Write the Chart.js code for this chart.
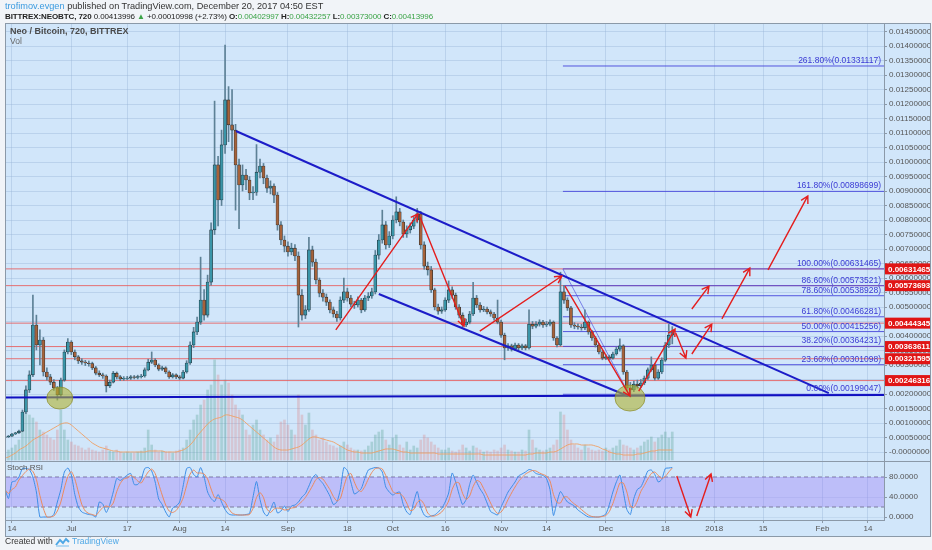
<!DOCTYPE html>
<html>
<head>
<meta charset="utf-8">
<title>NEOBTC 720 - BITTREX</title>
<script src="https://cdn.jsdelivr.net/npm/chart.js@4.4.1/dist/chart.umd.min.js"></script>
<style>
  html, body { margin: 0; padding: 0; background: #f1f4f8; }
  body { width: 932px; height: 550px; position: relative; overflow: hidden;
         font-family: "Liberation Sans", Arial, sans-serif; }
  #chart { position: absolute; left: 0; top: 0; }
  .txt { position: absolute; white-space: nowrap; }
  .head1 { left: 5px; top: 1px; font-size: 9.2px; color: #333; }
  .head2 { left: 5px; top: 11.5px; font-size: 8px; color: #222; letter-spacing: -0.1px; }
  .head2 b { font-weight: bold; }
  .up { color: #3aa346; }
  .title { left: 10px; top: 26px; font-size: 9px; color: #4a4a4a; font-weight: bold; }
  .vol { left: 10px; top: 36px; font-size: 8.5px; color: #666; }
  .stoch { left: 7px; top: 463px; font-size: 8px; color: #555; }
  .foot { left: 5px; top: 536px; font-size: 8.5px; color: #333; }
  .tv { left: 72px; top: 536px; font-size: 8.5px; color: #4fa8e6; }
  .logo { position: absolute; left: 55px; top: 537px; }
</style>
</head>
<body>
<canvas id="chart" width="932" height="550"></canvas>

<div class="txt head1"><span style="color:#3b9be0">trofimov.evgen</span> published on TradingView.com, December 20, 2017 04:50 EST</div>
<div class="txt head2"><b>BITTREX:NEOBTC, 720</b> 0.00413996 <span class="up">&#9650;</span> +0.00010998 (+2.73%) <b>O:</b><span class="up">0.00402997</span> <b>H:</b><span class="up">0.00432257</span> <b>L:</b><span class="up">0.00373000</span> <b>C:</b><span class="up">0.00413996</span></div>
<div class="txt title">Neo / Bitcoin, 720, BITTREX</div>
<div class="txt vol">Vol</div>
<div class="txt stoch">Stoch RSI</div>
<div class="txt foot">Created with</div>
<svg class="logo" width="15" height="10" viewBox="0 0 15 10">
  <path d="M1 8 L5 3 L8 6 L11 2 L14 5" fill="none" stroke="#4fa8e6" stroke-width="2"/>
  <path d="M1 9 L14 9" stroke="#9fd0f2" stroke-width="1.5"/>
</svg>
<div class="txt tv">TradingView</div>

<script>
// x axis: days counted from 14 Jun 2017; one candle per day, first one on 12 Jun
const firstDay = -2;
const xMin = -1.7;
const xMax = 249.6;

const tickDays = [0, 17, 33, 48, 61, 79, 96, 109, 124, 140, 153, 170, 187, 201, 215, 232, 245];
const tickLabels = ['14', 'Jul', '17', 'Aug', '14', 'Sep', '18', 'Oct', '16', 'Nov', '14', 'Dec', '18', '2018', '15', 'Feb', '14'];

const priceTicks = [0, 0.0005, 0.0010, 0.0015, 0.0020, 0.0025, 0.0030, 0.0035, 0.0040, 0.0045,
  0.0050, 0.0055, 0.0060, 0.0065, 0.0070, 0.0075, 0.0080, 0.0085, 0.0090, 0.0095,
  0.0100, 0.0105, 0.0110, 0.0115, 0.0120, 0.0125, 0.0130, 0.0135, 0.0140, 0.0145];
const stochTicks = [0, 40, 80];

// OHLC, NEO/BTC (rows of ten days, from 12 Jun)
const opens = [
  0.00050, 0.00052, 0.00055, 0.00062, 0.00066, 0.00072, 0.00138, 0.00214, 0.00266, 0.00438,
  0.00369, 0.00386, 0.00276, 0.00259, 0.00241, 0.00221, 0.00197, 0.00248, 0.00345, 0.00379,
  0.00345, 0.00328, 0.00314, 0.00310, 0.00307, 0.00305, 0.00290, 0.00272, 0.00266, 0.00262,
  0.00228, 0.00241, 0.00272, 0.00259, 0.00252, 0.00254, 0.00255, 0.00259, 0.00257, 0.00260,
  0.00262, 0.00283, 0.00310, 0.00317, 0.00300, 0.00286, 0.00290, 0.00276, 0.00259, 0.00266,
  0.00259, 0.00255, 0.00276, 0.00307, 0.00369, 0.00414, 0.00448, 0.00524, 0.00472, 0.00586,
  0.00766, 0.00990, 0.00869, 0.01059, 0.01214, 0.01128, 0.01110, 0.00990, 0.00921, 0.00955,
  0.00938, 0.00893, 0.00896, 0.00965, 0.00986, 0.00945, 0.00910, 0.00917, 0.00886, 0.00783,
  0.00731, 0.00710, 0.00690, 0.00703, 0.00676, 0.00541, 0.00472, 0.00490, 0.00697, 0.00655,
  0.00593, 0.00548, 0.00534, 0.00517, 0.00490, 0.00476, 0.00462, 0.00524, 0.00552, 0.00531,
  0.00510, 0.00507, 0.00524, 0.00490, 0.00531, 0.00538, 0.00552, 0.00679, 0.00731, 0.00783,
  0.00714, 0.00745, 0.00800, 0.00828, 0.00793, 0.00752, 0.00766, 0.00779, 0.00800, 0.00821,
  0.00714, 0.00641, 0.00628, 0.00559, 0.00500, 0.00486, 0.00490, 0.00524, 0.00559, 0.00541,
  0.00500, 0.00472, 0.00438, 0.00448, 0.00476, 0.00531, 0.00507, 0.00490, 0.00493, 0.00483,
  0.00476, 0.00462, 0.00448, 0.00403, 0.00359, 0.00366, 0.00355, 0.00369, 0.00359, 0.00366,
  0.00359, 0.00441, 0.00434, 0.00441, 0.00448, 0.00438, 0.00441, 0.00448, 0.00393, 0.00369,
  0.00552, 0.00524, 0.00497, 0.00438, 0.00434, 0.00431, 0.00428, 0.00448, 0.00414, 0.00393,
  0.00369, 0.00345, 0.00324, 0.00328, 0.00324, 0.00338, 0.00355, 0.00366, 0.00276, 0.00221,
  0.00214, 0.00234, 0.00228, 0.00238, 0.00255, 0.00283, 0.00300, 0.00255, 0.00276, 0.00317,
  0.00369, 0.00402997
];
const highs = [
  0.00054, 0.00057, 0.00064, 0.00068, 0.00076, 0.00145, 0.00228, 0.00280, 0.00541, 0.00472,
  0.00421, 0.00395, 0.00290, 0.00268, 0.00250, 0.00226, 0.00255, 0.00352, 0.00391, 0.00384,
  0.00352, 0.00333, 0.00322, 0.00316, 0.00314, 0.00310, 0.00295, 0.00280, 0.00272, 0.00266,
  0.00248, 0.00278, 0.00276, 0.00264, 0.00260, 0.00261, 0.00264, 0.00264, 0.00265, 0.00268,
  0.00290, 0.00320, 0.00345, 0.00322, 0.00304, 0.00296, 0.00294, 0.00280, 0.00271, 0.00270,
  0.00264, 0.00282, 0.00315, 0.00380, 0.00430, 0.00465, 0.00672, 0.00560, 0.00610, 0.00790,
  0.01210, 0.01020, 0.01110, 0.01403, 0.01260, 0.01250, 0.01130, 0.01010, 0.00990, 0.00975,
  0.00950, 0.00915, 0.01060, 0.01010, 0.00995, 0.00955, 0.00935, 0.00925, 0.00895, 0.00795,
  0.00745, 0.00725, 0.00720, 0.00715, 0.00690, 0.00560, 0.00505, 0.00740, 0.00710, 0.00665,
  0.00600, 0.00560, 0.00545, 0.00525, 0.00500, 0.00485, 0.00535, 0.00600, 0.00565, 0.00540,
  0.00520, 0.00535, 0.00530, 0.00540, 0.00550, 0.00565, 0.00695, 0.00750, 0.00834, 0.00795,
  0.00760, 0.00815, 0.00880, 0.00840, 0.00800, 0.00780, 0.00790, 0.00812, 0.00840, 0.00830,
  0.00725, 0.00655, 0.00640, 0.00565, 0.00510, 0.00500, 0.00532, 0.00590, 0.00570, 0.00548,
  0.00508, 0.00480, 0.00458, 0.00485, 0.00585, 0.00540, 0.00515, 0.00502, 0.00500, 0.00490,
  0.00482, 0.00524, 0.00455, 0.00410, 0.00374, 0.00372, 0.00376, 0.00374, 0.00372, 0.00371,
  0.00490, 0.00450, 0.00450, 0.00456, 0.00454, 0.00450, 0.00456, 0.00452, 0.00398, 0.00620,
  0.00575, 0.00532, 0.00502, 0.00446, 0.00442, 0.00440, 0.00490, 0.00452, 0.00420, 0.00398,
  0.00375, 0.00350, 0.00335, 0.00334, 0.00345, 0.00362, 0.00390, 0.00370, 0.00282, 0.00240,
  0.00245, 0.00248, 0.00250, 0.00262, 0.00290, 0.00328, 0.00305, 0.00284, 0.00325, 0.00378,
  0.00440, 0.00432257
];
const lows = [
  0.00048, 0.00050, 0.00054, 0.00060, 0.00064, 0.00070, 0.00132, 0.00205, 0.00260, 0.00352,
  0.00300, 0.00262, 0.00248, 0.00232, 0.00212, 0.00179, 0.00192, 0.00244, 0.00338, 0.00336,
  0.00318, 0.00305, 0.00302, 0.00298, 0.00296, 0.00284, 0.00266, 0.00260, 0.00254, 0.00207,
  0.00222, 0.00238, 0.00252, 0.00246, 0.00247, 0.00249, 0.00250, 0.00252, 0.00252, 0.00255,
  0.00258, 0.00280, 0.00305, 0.00294, 0.00280, 0.00281, 0.00270, 0.00254, 0.00255, 0.00253,
  0.00250, 0.00252, 0.00272, 0.00302, 0.00360, 0.00405, 0.00440, 0.00455, 0.00465, 0.00575,
  0.00750, 0.00780, 0.00850, 0.01030, 0.01070, 0.01040, 0.00834, 0.00770, 0.00900, 0.00905,
  0.00870, 0.00870, 0.00885, 0.00945, 0.00925, 0.00895, 0.00890, 0.00860, 0.00765, 0.00715,
  0.00690, 0.00675, 0.00680, 0.00660, 0.00431, 0.00455, 0.00460, 0.00485, 0.00640, 0.00580,
  0.00535, 0.00520, 0.00505, 0.00480, 0.00465, 0.00450, 0.00455, 0.00515, 0.00520, 0.00500,
  0.00495, 0.00500, 0.00480, 0.00485, 0.00522, 0.00530, 0.00545, 0.00665, 0.00720, 0.00700,
  0.00705, 0.00735, 0.00790, 0.00780, 0.00740, 0.00740, 0.00755, 0.00770, 0.00790, 0.00700,
  0.00630, 0.00610, 0.00550, 0.00490, 0.00475, 0.00478, 0.00485, 0.00515, 0.00530, 0.00492,
  0.00462, 0.00430, 0.00432, 0.00442, 0.00470, 0.00498, 0.00482, 0.00484, 0.00476, 0.00468,
  0.00455, 0.00442, 0.00395, 0.00318, 0.00350, 0.00348, 0.00350, 0.00352, 0.00353, 0.00352,
  0.00355, 0.00425, 0.00428, 0.00434, 0.00430, 0.00432, 0.00435, 0.00385, 0.00362, 0.00365,
  0.00512, 0.00488, 0.00430, 0.00425, 0.00424, 0.00420, 0.00422, 0.00406, 0.00385, 0.00362,
  0.00338, 0.00318, 0.00318, 0.00318, 0.00320, 0.00334, 0.00348, 0.00268, 0.00212, 0.00190,
  0.00208, 0.00220, 0.00222, 0.00232, 0.00250, 0.00278, 0.00248, 0.00250, 0.00270, 0.00312,
  0.00360, 0.00373
];
const closes = [
  0.00052, 0.00055, 0.00062, 0.00066, 0.00072, 0.00138, 0.00214, 0.00266, 0.00438, 0.00369,
  0.00386, 0.00276, 0.00259, 0.00241, 0.00221, 0.00197, 0.00248, 0.00345, 0.00379, 0.00345,
  0.00328, 0.00314, 0.00310, 0.00307, 0.00305, 0.00290, 0.00272, 0.00266, 0.00262, 0.00228,
  0.00241, 0.00272, 0.00259, 0.00252, 0.00254, 0.00255, 0.00259, 0.00257, 0.00260, 0.00262,
  0.00283, 0.00310, 0.00317, 0.00300, 0.00286, 0.00290, 0.00276, 0.00259, 0.00266, 0.00259,
  0.00255, 0.00276, 0.00307, 0.00369, 0.00414, 0.00448, 0.00524, 0.00472, 0.00586, 0.00766,
  0.00990, 0.00869, 0.01059, 0.01214, 0.01128, 0.01110, 0.00990, 0.00921, 0.00955, 0.00938,
  0.00893, 0.00896, 0.00965, 0.00986, 0.00945, 0.00910, 0.00917, 0.00886, 0.00783, 0.00731,
  0.00710, 0.00690, 0.00703, 0.00676, 0.00541, 0.00472, 0.00490, 0.00697, 0.00655, 0.00593,
  0.00548, 0.00534, 0.00517, 0.00490, 0.00476, 0.00462, 0.00524, 0.00552, 0.00531, 0.00510,
  0.00507, 0.00524, 0.00490, 0.00531, 0.00538, 0.00552, 0.00679, 0.00731, 0.00783, 0.00714,
  0.00745, 0.00800, 0.00828, 0.00793, 0.00752, 0.00766, 0.00779, 0.00800, 0.00821, 0.00714,
  0.00641, 0.00628, 0.00559, 0.00500, 0.00486, 0.00490, 0.00524, 0.00559, 0.00541, 0.00500,
  0.00472, 0.00438, 0.00448, 0.00476, 0.00531, 0.00507, 0.00490, 0.00493, 0.00483, 0.00476,
  0.00462, 0.00448, 0.00403, 0.00359, 0.00366, 0.00355, 0.00369, 0.00359, 0.00366, 0.00359,
  0.00441, 0.00434, 0.00441, 0.00448, 0.00438, 0.00441, 0.00448, 0.00393, 0.00369, 0.00552,
  0.00524, 0.00497, 0.00438, 0.00434, 0.00431, 0.00428, 0.00448, 0.00414, 0.00393, 0.00369,
  0.00345, 0.00324, 0.00328, 0.00324, 0.00338, 0.00355, 0.00366, 0.00276, 0.00221, 0.00214,
  0.00234, 0.00228, 0.00238, 0.00255, 0.00283, 0.00300, 0.00255, 0.00276, 0.00317, 0.00369,
  0.00403, 0.00413996
];

// volume (relative units) and its moving average
const volumes = [
  8, 10, 12, 15, 20, 40, 48, 45, 42, 38,
  30, 28, 25, 22, 20, 30, 50, 30, 20, 18,
  15, 14, 12, 10, 12, 10, 9, 8, 10, 14,
  9, 8, 10, 8, 7, 8, 7, 7, 8, 9,
  12, 30, 15, 10, 8, 9, 8, 8, 7, 9,
  10, 12, 20, 30, 40, 45, 55, 60, 70, 75,
  100, 85, 75, 80, 77, 65, 55, 50, 45, 30,
  25, 35, 40, 30, 25, 20, 22, 18, 25, 38,
  40, 35, 30, 25, 65, 45, 35, 47, 30, 25,
  20, 22, 18, 15, 14, 12, 14, 18, 15, 12,
  10, 10, 9, 10, 14, 18, 25, 28, 30, 20,
  15, 22, 25, 15, 12, 18, 10, 14, 12, 20,
  25, 22, 18, 15, 12, 10, 10, 12, 9, 8,
  10, 15, 12, 9, 14, 12, 10, 8, 9, 8,
  10, 9, 12, 15, 10, 9, 8, 8, 10, 9,
  30, 20, 12, 10, 9, 10, 12, 15, 20, 48,
  45, 30, 20, 15, 12, 10, 15, 12, 10, 9,
  10, 9, 12, 10, 12, 14, 20, 15, 14, 12,
  10, 12, 14, 18, 20, 23, 18, 22, 25, 28,
  22, 28
];
const volumeMA = [
  2, 3, 5, 7, 10, 12, 14, 17, 20, 22,
  24, 26, 28, 30, 32, 34, 36, 37, 37, 35,
  32, 29, 26, 23, 20, 17, 15, 13, 12, 11,
  10, 9, 9, 8, 8, 8, 8, 8, 8, 8,
  8, 9, 9, 9, 9, 9, 8, 8, 8, 8,
  9, 10, 12, 15, 19, 24, 28, 32, 36, 39,
  41, 42, 43, 45, 45, 44, 43, 42, 40, 37,
  34, 31, 28, 25, 22, 19, 16, 13, 11, 10,
  10, 10, 11, 12, 13, 15, 18, 21, 23, 23,
  22, 21, 20, 19, 18, 16, 14, 12, 10, 9,
  8, 8, 7, 7, 7, 7, 8, 9, 10, 11,
  11, 11, 10, 9, 8, 8, 7, 7, 7, 7,
  7, 7, 7, 7, 6, 6, 6, 6, 6, 6,
  6, 6, 6, 6, 6, 6, 6, 5, 5, 5,
  5, 5, 5, 5, 5, 5, 5, 5, 5, 5,
  6, 6, 7, 7, 7, 7, 8, 8, 9, 11,
  13, 15, 16, 16, 16, 15, 15, 15, 15, 14,
  13, 11, 10, 8, 7, 6, 6, 5, 5, 5,
  5, 6, 6, 7, 8, 9, 9, 10, 10, 10,
  10, 10
];

// Stoch RSI %K and %D
const stochK = [
  57, 37, 70, 72, 80, 97, 97, 95, 80, 50,
  0, 0, 0, 0, 5, 30, 55, 90, 98, 84,
  45, 20, 10, 7, 5, 4, 0, 30, 26, 9,
  25, 50, 77, 73, 78, 84, 87, 65, 65, 75,
  97, 99, 92, 70, 36, 25, 10, 0, 18, 22,
  30, 62, 97, 99, 85, 80, 99, 80, 50, 37,
  31, 45, 30, 15, 6, 4, 4, 4, 4, 5,
  7, 40, 71, 35, 10, 2, 15, 30, 8, 12,
  22, 11, 22, 24, 30, 40, 47, 62, 78, 85,
  75, 67, 55, 42, 25, 30, 55, 99, 93, 70,
  46, 50, 57, 77, 94, 97, 99, 98, 90, 60,
  50, 44, 48, 50, 25, 10, 5, 30, 51, 20,
  4, 0, 2, 4, 10, 17, 30, 48, 88, 70,
  45, 25, 35, 65, 84, 70, 56, 45, 28, 11,
  7, 4, 20, 35, 50, 60, 70, 82, 86, 90,
  95, 93, 87, 85, 83, 77, 55, 3, 30, 51,
  40, 30, 26, 22, 14, 9, 4, 0, 0, 0,
  0, 2, 6, 25, 50, 70, 84, 50, 15, 5,
  37, 55, 60, 75, 92, 94, 85, 70, 75, 97,
  98, 99
];
const stochD = [
  55, 47, 55, 60, 74, 83, 91, 96, 91, 75,
  43, 17, 0, 0, 2, 12, 30, 58, 81, 91,
  76, 50, 25, 12, 7, 5, 3, 11, 19, 22,
  20, 28, 51, 67, 76, 78, 83, 79, 72, 68,
  79, 90, 96, 87, 66, 44, 24, 12, 9, 13,
  23, 38, 63, 86, 94, 88, 88, 86, 76, 56,
  39, 38, 35, 30, 17, 8, 5, 4, 4, 4,
  5, 17, 39, 49, 39, 16, 9, 16, 18, 17,
  14, 15, 18, 19, 25, 31, 39, 50, 62, 75,
  79, 76, 66, 55, 41, 32, 37, 61, 82, 87,
  70, 55, 51, 61, 76, 89, 97, 98, 96, 83,
  67, 51, 47, 47, 41, 28, 13, 15, 29, 34,
  25, 8, 2, 2, 5, 10, 19, 32, 55, 69,
  68, 47, 35, 42, 61, 73, 70, 57, 43, 28,
  15, 7, 10, 20, 35, 48, 60, 71, 79, 86,
  90, 93, 92, 88, 85, 82, 72, 45, 29, 28,
  40, 40, 32, 26, 21, 15, 9, 4, 1, 0,
  0, 1, 3, 11, 27, 48, 68, 68, 50, 23,
  19, 32, 51, 63, 76, 87, 90, 83, 77, 81,
  90, 98
];

// drawings on the chart
const redLevels = [0.00631465, 0.00573693, 0.00444345, 0.00363611, 0.00321595, 0.00246316];
const fibStartDay = 157.7;
const fibNames = ['0.00%', '23.60%', '38.20%', '50.00%', '61.80%', '78.60%', '86.60%', '100.00%', '161.80%', '261.80%'];
const fibPrices = [0.00199047, 0.00301098, 0.00364231, 0.00415256, 0.00466281, 0.00538928, 0.00573521, 0.00631465, 0.00898699, 0.01331117];
const trendUpper = [[64.1, 0.01107], [233.8, 0.00203]];
const trendLower = [[105.0, 0.00545], [176.3, 0.00193]];
const supportLine = [[xMin, 0.00188], [xMax, 0.00197]];
const fibTrend = [[157.7, 0.00631], [176.9, 0.00193]];
const redArrows = [
  [92.7, 0.00421, 116.2, 0.00821],
  [116.8, 0.00810, 129.4, 0.00434],
  [133.9, 0.00417, 157.4, 0.00607],
  [158.3, 0.00572, 176.9, 0.00193],
  [179.4, 0.00210, 189.8, 0.00424],
  [190.0, 0.00410, 192.9, 0.00324],
  [194.6, 0.00338, 200.3, 0.00441],
  [194.6, 0.00493, 199.5, 0.00572],
  [203.2, 0.00459, 211.2, 0.00634],
  [216.4, 0.00628, 227.8, 0.00883]
];
const stochArrows = [[190.3, 82, 194.3, 0], [196.0, 2, 200.1, 86]];
const highlightSpots = [[13.7, 0.00186], [176.9, 0.00186]];

const dayOf = i => firstDay + i;
const isUp = closes.map((c, i) => c >= opens[i]);

function fmtPrice(v) {
    // TradingView prints the zero line as "-0.00000000"
    return Math.abs(v) < 1e-12 ? '-0.00000000' : v.toFixed(8);
}

function segment(points, color, width, order, axis, dash) {
    return {
        type: 'line',
        data: points.map(p => ({ x: p[0], y: p[1] })),
        yAxisID: axis || 'y',
        borderColor: color,
        borderWidth: width,
        borderDash: dash || [],
        pointRadius: 0,
        fill: false,
        tension: 0,
        order: order
    };
}

const datasets = [];

// volume
datasets.push({
    type: 'bar',
    data: volumes.map((v, i) => ({ x: dayOf(i), y: v })),
    yAxisID: 'yv',
    backgroundColor: isUp.map(u => u ? 'rgba(90,165,150,0.34)' : 'rgba(220,125,125,0.30)'),
    barThickness: 2,
    grouped: false,
    order: 30
});
datasets.push({
    type: 'line',
    data: volumeMA.map((v, i) => ({ x: dayOf(i), y: v })),
    yAxisID: 'yv',
    borderColor: 'rgba(240,160,100,0.9)',
    borderWidth: 1,
    pointRadius: 0,
    tension: 0.3,
    order: 29
});

// Stoch RSI band 80 / 20
datasets.push(segment([[xMin, 80], [xMax, 80]], '#7b7d9c', 1, 26, 'ys', [4, 3]));
datasets.push(Object.assign(segment([[xMin, 20], [xMax, 20]], '#7b7d9c', 1, 25, 'ys', [4, 3]), {
    fill: '-1',
    backgroundColor: 'rgba(150,110,250,0.33)'
}));

// red horizontal levels and the fibonacci levels
redLevels.forEach(v => datasets.push(segment([[xMin, v], [xMax, v]], 'rgba(232,90,90,0.85)', 1, 20)));
fibPrices.forEach(v => datasets.push(segment([[fibStartDay, v], [xMax, v]], 'rgba(70,70,220,0.9)', 1, 19)));
datasets.push(segment(fibTrend, 'rgba(70,70,220,0.8)', 0.8, 18));

// candles
datasets.push({
    type: 'bar',
    data: highs.map((h, i) => ({ x: dayOf(i), y: [lows[i], h] })),
    backgroundColor: '#5d8196',
    barThickness: 1,
    grouped: false,
    order: 12
});
datasets.push({
    type: 'bar',
    data: opens.map((o, i) => ({ x: dayOf(i), y: [o, closes[i]] })),
    backgroundColor: isUp.map(u => u ? '#3a95a8' : '#a6623a'),
    borderColor: '#1f2d33',
    borderWidth: 0.6,
    borderSkipped: false,
    barThickness: 3,
    grouped: false,
    order: 11
});

// blue trend lines
datasets.push(segment(trendUpper, '#1c1cc8', 2, 6));
datasets.push(segment(trendLower, '#1c1cc8', 2, 6));
datasets.push(segment(supportLine, '#1010c0', 2, 6));

// stoch lines
datasets.push({
    type: 'line',
    data: stochD.map((v, i) => ({ x: dayOf(i), y: v })),
    yAxisID: 'ys',
    borderColor: '#ec8a5e',
    borderWidth: 1,
    pointRadius: 0,
    tension: 0.2,
    order: 4
});
datasets.push({
    type: 'line',
    data: stochK.map((v, i) => ({ x: dayOf(i), y: v })),
    yAxisID: 'ys',
    borderColor: '#3d8fe8',
    borderWidth: 1,
    pointRadius: 0,
    tension: 0.2,
    order: 5
});

function arrow(ctx, x0, y0, x1, y1) {
    const a = Math.atan2(y1 - y0, x1 - x0);
    const len = 8;
    ctx.beginPath();
    ctx.moveTo(x0, y0);
    ctx.lineTo(x1, y1);
    ctx.moveTo(x1 - len * Math.cos(a - 0.5), y1 - len * Math.sin(a - 0.5));
    ctx.lineTo(x1, y1);
    ctx.lineTo(x1 - len * Math.cos(a + 0.5), y1 - len * Math.sin(a + 0.5));
    ctx.stroke();
}

const decorations = {
    id: 'decorations',
    beforeDraw(chart) {
        const ctx = chart.ctx;
        ctx.save();
        ctx.fillStyle = '#f1f4f8';
        ctx.fillRect(0, 0, chart.width, chart.height);
        ctx.fillStyle = '#d1e6fa';
        ctx.fillRect(5, 23, 926, 514);
        ctx.restore();
    },
    afterDatasetsDraw(chart) {
        const { ctx, chartArea } = chart;
        const sx = chart.scales.x, sy = chart.scales.y, ss = chart.scales.ys;
        ctx.save();

        // highlighted lows
        const radii = [[13, 11], [15, 13]];
        highlightSpots.forEach((p, i) => {
            ctx.beginPath();
            ctx.ellipse(sx.getPixelForValue(p[0]), sy.getPixelForValue(p[1]), radii[i][0], radii[i][1], 0, 0, Math.PI * 2);
            ctx.fillStyle = 'rgba(175,178,50,0.6)';
            ctx.fill();
            ctx.strokeStyle = 'rgba(140,140,40,0.7)';
            ctx.lineWidth = 1;
            ctx.stroke();
        });

        // red arrows
        ctx.strokeStyle = '#e41e1e';
        ctx.lineWidth = 1.4;
        redArrows.forEach(a => arrow(ctx, sx.getPixelForValue(a[0]), sy.getPixelForValue(a[1]),
            sx.getPixelForValue(a[2]), sy.getPixelForValue(a[3])));
        stochArrows.forEach(a => arrow(ctx, sx.getPixelForValue(a[0]), ss.getPixelForValue(a[1]),
            sx.getPixelForValue(a[2]), ss.getPixelForValue(a[3])));

        // fibonacci labels
        ctx.font = '8.5px "Liberation Sans", Arial, sans-serif';
        ctx.fillStyle = '#3a3ad4';
        ctx.textAlign = 'right';
        ctx.textBaseline = 'bottom';
        fibNames.forEach((n, i) => {
            ctx.fillText(n + '(' + fibPrices[i].toFixed(8) + ')', chartArea.right - 3, sy.getPixelForValue(fibPrices[i]) - 1);
        });

        // red price labels on the axis
        ctx.font = 'bold 8px "Liberation Sans", Arial, sans-serif';
        ctx.textAlign = 'left';
        ctx.textBaseline = 'middle';
        redLevels.forEach(v => {
            const y = sy.getPixelForValue(v);
            ctx.fillStyle = '#e01515';
            ctx.fillRect(chartArea.right + 1, y - 5.5, 46, 11);
            ctx.fillStyle = '#ffffff';
            ctx.fillText(v.toFixed(8), chartArea.right + 4, y + 0.5);
        });
        ctx.restore();
    },
    afterDraw(chart) {
        const ctx = chart.ctx;
        const ss = chart.scales.ys;
        ctx.save();
        ctx.strokeStyle = '#8b99a8';
        ctx.lineWidth = 1;
        ctx.beginPath();
        ctx.moveTo(5, Math.round(ss.top) + 0.5);
        ctx.lineTo(931, Math.round(ss.top) + 0.5);
        ctx.stroke();
        ctx.strokeRect(5.5, 23.5, 925, 513);
        ctx.restore();
    }
};

Chart.defaults.font.family = '"Liberation Sans", Arial, sans-serif';
Chart.defaults.font.size = 8;

const gridColor = 'rgba(150,180,212,0.38)';
const axisColor = '#8b99a8';

new Chart(document.getElementById('chart'), {
    type: 'bar',
    data: { datasets },
    plugins: [decorations],
    options: {
        responsive: false,
        animation: false,
        events: [],
        layout: { padding: { left: 6, top: 24, right: 2, bottom: 14 } },
        plugins: { legend: { display: false }, tooltip: { enabled: false } },
        scales: {
            x: {
                type: 'linear',
                min: xMin,
                max: xMax,
                offset: false,
                afterBuildTicks: s => { s.ticks = tickDays.map(v => ({ value: v })); },
                afterFit: s => { s.height = 16; },
                ticks: {
                    autoSkip: false,
                    maxRotation: 0,
                    color: '#555',
                    padding: 1,
                    callback: v => tickLabels[tickDays.indexOf(v)]
                },
                grid: { color: gridColor, tickColor: axisColor, tickLength: 3, offset: false },
                border: { color: axisColor }
            },
            y: {
                type: 'linear',
                position: 'right',
                stack: 'panes',
                stackWeight: 437,
                min: -0.00031,
                max: 0.014759,
                afterBuildTicks: s => { s.ticks = priceTicks.map(v => ({ value: v })); },
                afterFit: s => { s.width = 46; },
                ticks: { autoSkip: false, color: '#555', padding: 2, callback: v => fmtPrice(v) },
                grid: { color: gridColor, tickColor: axisColor, tickLength: 3 },
                border: { color: axisColor }
            },
            ys: {
                type: 'linear',
                position: 'right',
                stack: 'panes',
                stackWeight: 59,
                min: -6,
                max: 112,
                afterBuildTicks: s => { s.ticks = stochTicks.map(v => ({ value: v })); },
                afterFit: s => { s.width = 46; },
                ticks: { autoSkip: false, color: '#555', padding: 2, callback: v => v.toFixed(4) },
                grid: { color: 'rgba(150,180,212,0.25)', tickColor: axisColor, tickLength: 3 },
                border: { color: axisColor }
            },
            yv: {
                type: 'linear',
                position: 'right',
                display: false,
                min: -60,
                max: 436
            }
        }
    }
});
</script>
</body>
</html>
